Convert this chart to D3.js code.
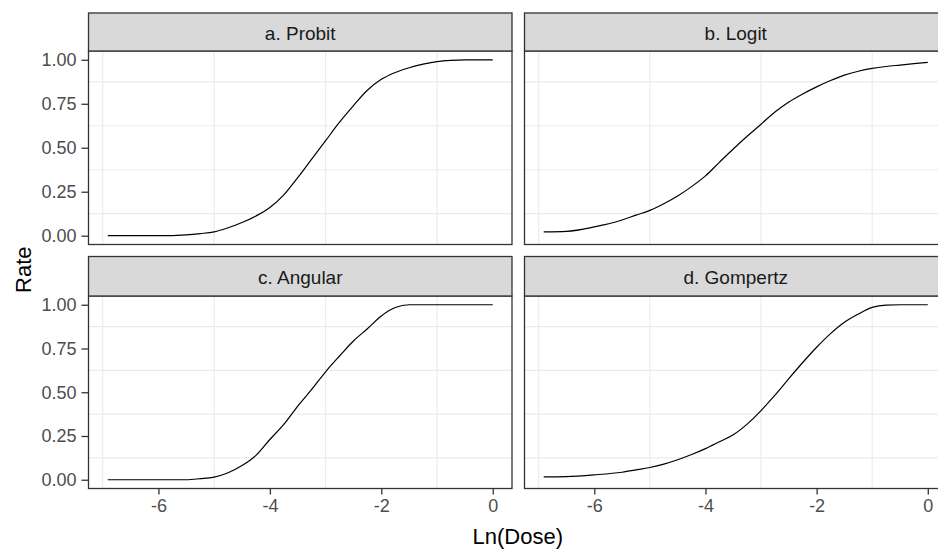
<!DOCTYPE html>
<html>
<head>
<meta charset="utf-8">
<script src="https://cdn.jsdelivr.net/npm/d3@7"></script>
<style>
    body { margin: 0; background: #fff; }
    svg { display: block; font-family: "Liberation Sans", Arial, sans-serif; }
</style>
</head>
<body>
<div id="chart"></div>
<script>
// ln(dose) values where the curves were read
var lnDose = [-6.91, -6.5, -6, -5.5, -5.25, -5, -4.75, -4.5, -4.25, -4, -3.75, -3.5, -3.25, -3,
    -2.75, -2.5, -2.25, -2, -1.75, -1.5, -1.25, -1, -0.75, -0.5, -0.25, 0];

var probitRate = [0, 0, 0, 0.005, 0.012, 0.022, 0.045, 0.075, 0.112, 0.16, 0.232, 0.33, 0.435, 0.54,
    0.645, 0.74, 0.827, 0.889, 0.928, 0.955, 0.975, 0.99, 0.997, 1, 1, 1];
var logitRate = [0.022, 0.025, 0.05, 0.089, 0.117, 0.144, 0.182, 0.226, 0.279, 0.34, 0.417, 0.493, 0.565, 0.634,
    0.703, 0.76, 0.806, 0.846, 0.882, 0.913, 0.935, 0.951, 0.962, 0.97, 0.978, 0.985];
var angularRate = [0, 0, 0, 0, 0.006, 0.015, 0.04, 0.081, 0.139, 0.23, 0.316, 0.421, 0.516, 0.617,
    0.707, 0.793, 0.863, 0.936, 0.984, 1, 1, 1, 1, 1, 1, 1];
var gompertzRate = [0.016, 0.018, 0.028, 0.043, 0.056, 0.07, 0.089, 0.114, 0.144, 0.178, 0.217, 0.257, 0.318, 0.395,
    0.483, 0.578, 0.67, 0.757, 0.835, 0.9, 0.947, 0.985, 0.998, 1, 1, 1];

var panelTitles = ['a. Probit', 'b. Logit', 'c. Angular', 'd. Gompertz'];
var xTicks = [-6, -4, -2, 0];
var xMinor = [-7, -5, -3, -1];
var yTicks = [0, 0.25, 0.5, 0.75, 1];
var yMinor = [0.125, 0.375, 0.625, 0.875];

var width = 938, height = 549;

var svg = d3.select('#chart').append('svg')
    .attr('width', width)
    .attr('height', height);

// layout of the 2x2 facet grid (right column runs past the picture edge)
var cols = [[88.5, 512], [524.5, 947]];
var rows = [{ strip: 13, top: 51, bottom: 244.5 }, { strip: 256.5, top: 296, bottom: 488.5 }];

var xExt = d3.extent(lnDose);
var xPad = (xExt[1] - xExt[0]) * 0.05;

var series = [probitRate, logitRate, angularRate, gompertzRate];

const drawPanel = (i) => {
    var col = cols[i % 2];
    var row = rows[Math.floor(i / 2)];

    var x = d3.scaleLinear().domain([xExt[0] - xPad, xExt[1] + xPad]).range(col);
    var y = d3.scaleLinear().domain([-0.05, 1.05]).range([row.bottom, row.top]);

    var g = svg.append('g');

    g.append('rect')
        .attr('x', col[0]).attr('y', row.top)
        .attr('width', col[1] - col[0]).attr('height', row.bottom - row.top)
        .attr('fill', '#fff');

    // only minor grid lines show in the reference
    g.selectAll('.vgrid').data(xMinor).enter().append('line')
        .attr('x1', d => x(d)).attr('x2', d => x(d))
        .attr('y1', row.top).attr('y2', row.bottom)
        .attr('stroke', '#EBEBEB').attr('stroke-width', 1.2);
    g.selectAll('.hgrid').data(yMinor).enter().append('line')
        .attr('x1', col[0]).attr('x2', col[1])
        .attr('y1', d => y(d)).attr('y2', d => y(d))
        .attr('stroke', '#EBEBEB').attr('stroke-width', 1.2);

    var line = d3.line()
        .x(d => x(d[0]))
        .y(d => y(d[1]))
        .curve(d3.curveMonotoneX);

    g.append('path')
        .datum(d3.zip(lnDose, series[i]))
        .attr('d', line)
        .attr('fill', 'none')
        .attr('stroke', '#000')
        .attr('stroke-width', 1.2);

    g.append('rect')
        .attr('x', col[0]).attr('y', row.top)
        .attr('width', col[1] - col[0]).attr('height', row.bottom - row.top)
        .attr('fill', 'none').attr('stroke', '#333').attr('stroke-width', 1.3);

    // strip
    g.append('rect')
        .attr('x', col[0]).attr('y', row.strip)
        .attr('width', col[1] - col[0]).attr('height', row.top - row.strip)
        .attr('fill', '#D9D9D9').attr('stroke', '#333').attr('stroke-width', 1.3);
    g.append('text')
        .attr('x', (col[0] + col[1]) / 2)
        .attr('y', (row.strip + row.top) / 2 + 7.5)
        .attr('text-anchor', 'middle')
        .style('font-size', '19px')
        .attr('fill', '#1A1A1A')
        .text(panelTitles[i]);

    // y axis on left column
    if (i % 2 === 0) {
        var yAxis = d3.axisLeft(y).tickValues(yTicks).tickFormat(d3.format('.2f'))
            .tickSizeInner(7).tickSizeOuter(0).tickPadding(5);
        var ya = g.append('g').attr('transform', 'translate(' + col[0] + ',0)').call(yAxis);
        ya.select('.domain').remove();
        ya.selectAll('line').attr('stroke', '#333').attr('stroke-width', 1.3);
        ya.selectAll('text').attr('fill', '#4D4D4D').style('font-size', '18px')
            .style('font-family', '"Liberation Sans", Arial, sans-serif');
    }

    // x axis on bottom row
    if (i >= 2) {
        var xAxis = d3.axisBottom(x).tickValues(xTicks).tickFormat(d3.format('d'))
            .tickSizeInner(6).tickSizeOuter(0).tickPadding(5);
        var xa = g.append('g').attr('transform', 'translate(0,' + row.bottom + ')').call(xAxis);
        xa.select('.domain').remove();
        xa.selectAll('line').attr('stroke', '#333').attr('stroke-width', 1.3);
        xa.selectAll('text').attr('fill', '#4D4D4D').style('font-size', '18px')
            .style('font-family', '"Liberation Sans", Arial, sans-serif')
            .text(d => d < 0 ? '-' + Math.abs(d) : d);
    }
};

for (var i = 0; i < 4; i++) {
    drawPanel(i);
}

// axis titles
svg.append('text')
    .attr('x', (cols[0][0] + cols[1][1]) / 2)
    .attr('y', 544)
    .attr('text-anchor', 'middle')
    .style('font-size', '22px')
    .attr('fill', '#000')
    .text('Ln(Dose)');

svg.append('text')
    .attr('transform', 'translate(31,' + (rows[0].top + rows[1].bottom) / 2 + ') rotate(-90)')
    .attr('text-anchor', 'middle')
    .style('font-size', '22px')
    .attr('fill', '#000')
    .text('Rate');
</script>
</body>
</html>
